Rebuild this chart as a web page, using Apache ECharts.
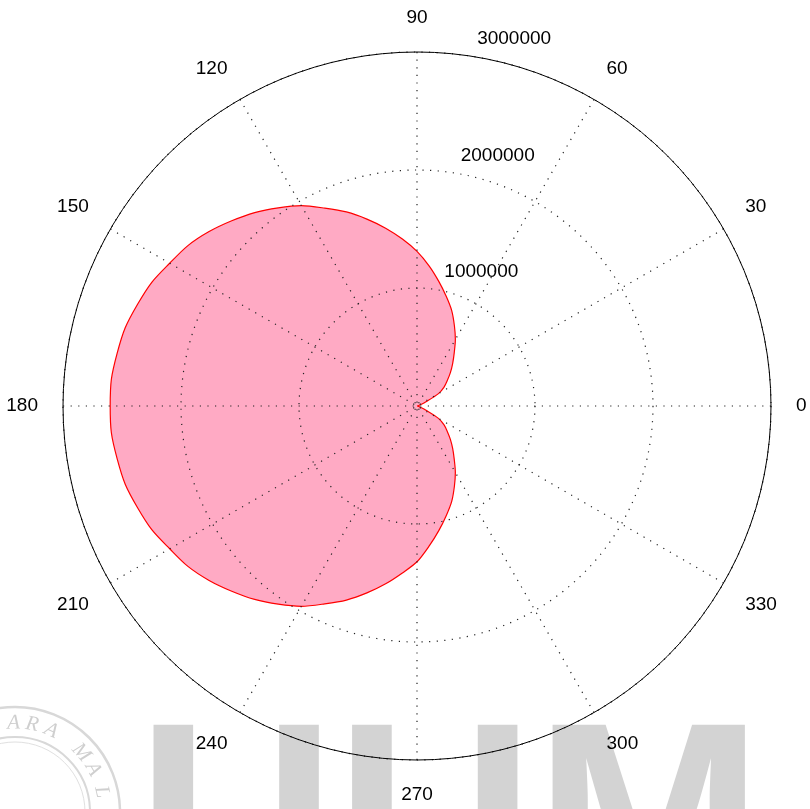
<!DOCTYPE html>
<html>
<head>
<meta charset="utf-8">
<script src="https://cdn.jsdelivr.net/npm/echarts@6/dist/echarts.min.js"></script>
<style>
html,body{margin:0;padding:0;background:#ffffff;}
#chart{width:810px;height:809px;}
</style>
</head>
<body>
<div id="chart"></div>
<script>
// Angles (degrees) of the sampled boundary points
const thetaDeg = [
  0,5,10,15,20,25,30,35,40,45,50,55,60,65,70,75,80,85,90,
  95,100,105,110,115,120,125,130,135,140,145,150,155,160,165,170,175,180,
  185,190,195,200,205,210,215,220,225,230,235,240,245,250,255,260,265,270,
  275,280,285,290,295,300,305,310,315,320,325,330,335,340,345,350,355,360
];
// Radius values at each angle
const radiusVal = [
  0,0,5000,15000,30000,80000,210000,280000,335000,400000,470000,550000,650000,750000,860000,960000,1070000,1190000,1310000,
  1420000,1530000,1640000,1750000,1850000,1960000,2050000,2140000,2220000,2300000,2370000,2420000,2480000,2520000,2560000,2580000,2600000,2600000,
  2600000,2580000,2560000,2520000,2480000,2420000,2370000,2300000,2220000,2140000,2050000,1960000,1850000,1750000,1640000,1530000,1420000,1320000,
  1190000,1070000,960000,860000,750000,650000,550000,470000,400000,335000,280000,210000,80000,30000,15000,5000,0,0
];
// Tick labels
const angleTickLabels = ['0','30','60','90','120','150','180','210','240','270','300','330'];
const radiusTickLabels = ['1000000','2000000','3000000'];
const radiusMax = 3000000;
const radiusStep = 1000000;
const angleStep = 30;

const chart = echarts.init(document.getElementById('chart'), null, {renderer:'canvas'});

const dotted = {color:'#222222', width:1.2, type:[1.2, 6.4]};
const labelFont = {color:'#000000', fontSize:19, fontFamily:'"Liberation Sans", Arial, sans-serif'};

// decorative seal (background watermark)
const sealCx = 15, sealCy = 812;
const sealLetters = [['A',91],['R',79],['A',66],['M',42],['A',29],['L',13]];
const sealEls = [
  {type:'circle', z:0, silent:true, shape:{cx:sealCx, cy:sealCy, r:105}, style:{fill:'none', stroke:'#d8d8d8', lineWidth:2.5}},
  {type:'circle', z:0, silent:true, shape:{cx:sealCx, cy:sealCy, r:75}, style:{fill:'none', stroke:'#d8d8d8', lineWidth:2}},
  {type:'circle', z:0, silent:true, shape:{cx:sealCx, cy:sealCy, r:70}, style:{fill:'none', stroke:'#e0e0e0', lineWidth:1}}
].concat(sealLetters.map(function(l){
  const a = l[1] * Math.PI / 180;
  return {type:'text', z:0, silent:true,
    x: sealCx + 89 * Math.cos(a), y: sealCy - 89 * Math.sin(a),
    rotation: a - Math.PI/2,
    style:{text:l[0], font:'italic 21px "Liberation Serif", serif', fill:'#cfcfcf', align:'center', verticalAlign:'middle'}};
}));

const option = {
  animation:false,
  backgroundColor:'#ffffff',
  graphic:{elements:[
    {type:'text', z:0, silent:true, x:137, y:838,
     style:{text:'UUM', font:'bold 275px "Liberation Sans", Arial, sans-serif', fill:'#d3d3d3', verticalAlign:'middle'}}
  ].concat(sealEls)},
  polar:[
    {center:[417,406], radius:354},
    {center:[417,406], radius:354}
  ],
  angleAxis:[
    {polarIndex:0, type:'value', min:0, max:360, interval:angleStep, startAngle:0, clockwise:false, z:5,
     axisLine:{show:true, lineStyle:{color:'#000000', width:1}},
     axisTick:{show:false},
     axisLabel:Object.assign({show:true, margin:25, formatter:function(v){ return angleTickLabels[Math.round(v/angleStep)] !== undefined && v < 360 ? angleTickLabels[Math.round(v/angleStep)] : ''; }}, labelFont),
     splitLine:{show:true, lineStyle:dotted},
     splitArea:{show:false}
    },
    {polarIndex:1, type:'value', min:0, max:360, startAngle:82, clockwise:false, show:false}
  ],
  radiusAxis:[
    {polarIndex:0, type:'value', min:0, max:radiusMax, interval:radiusStep, z:5,
     axisLine:{show:false}, axisTick:{show:false}, axisLabel:{show:false},
     splitLine:{show:true, lineStyle:dotted}, splitArea:{show:false}
    },
    {polarIndex:1, type:'value', min:0, max:radiusMax, interval:radiusStep, z:5,
     axisLine:{show:false}, axisTick:{show:false}, splitLine:{show:false}, splitArea:{show:false},
     axisLabel:Object.assign({show:true, margin:-11, align:'left', verticalAlign:'bottom', padding:[0,0,9,0],
       formatter:function(v){ const i = Math.round(v/radiusStep) - 1; return i >= 0 ? radiusTickLabels[i] : ''; }}, labelFont)
    }
  ],
  series:[{
    type:'line', coordinateSystem:'polar', polarIndex:0, z:2,
    data: thetaDeg.map(function(t,i){ return [radiusVal[i], t]; }),
    symbol:'none', smooth:0.3, silent:true,
    lineStyle:{color:'#ff0000', width:1.2},
    areaStyle:{color:'#ffaac4', opacity:1}
  }]
};
chart.setOption(option);
</script>
</body>
</html>
